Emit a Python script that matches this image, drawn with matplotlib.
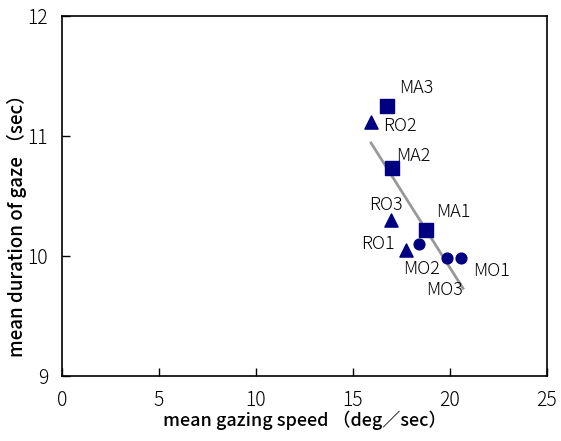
import numpy as np
import matplotlib
matplotlib.use("Agg")
import matplotlib.pyplot as plt

plt.rcParams['font.family'] = ['Noto Sans CJK JP', 'DejaVu Sans']

# mean gazing speed (deg/sec) and mean duration of gaze (sec) per subject
ma_names = ["MA1", "MA2", "MA3"]
ma_speed = [18.76, 17.0, 16.75]
ma_dur = [10.22, 10.73, 11.25]

ro_names = ["RO1", "RO2", "RO3"]
ro_speed = [17.73, 15.93, 16.96]
ro_dur = [10.05, 11.12, 10.30]

mo_names = ["MO1", "MO2", "MO3"]
mo_speed = [20.57, 18.40, 19.85]
mo_dur = [9.98, 10.10, 9.98]

x_ticks = [0, 5, 10, 15, 20, 25]
y_ticks = [9, 10, 11, 12]

navy = "#000080"

fig = plt.figure(figsize=(5.61, 4.41), dpi=100)
ax = fig.add_axes([62 / 561, 1 - 376 / 441, 485 / 561, 360 / 441])

# regression line over all subjects
all_x = np.array(ma_speed + ro_speed + mo_speed)
all_y = np.array(ma_dur + ro_dur + mo_dur)
slope, intercept = np.polyfit(all_x, all_y, 1)
xs = np.array([all_x.min(), all_x.max() + 0.1])
ax.plot(xs, slope * xs + intercept, color="#999999", lw=2, zorder=1)

ax.scatter(ma_speed, ma_dur, marker="s", s=110, color=navy, zorder=2)
ax.scatter(ro_speed, ro_dur, marker="^", s=90, color=navy, zorder=2)
ax.scatter(mo_speed, mo_dur, marker="o", s=60, color=navy, zorder=2)

fs = 13
# point labels, offsets in points
label_offsets = {
    "MA1": (7, 13, "left"), "MA2": (3, 9, "left"), "MA3": (9, 13, "left"),
    "RO1": (-8, 4, "right"), "RO2": (9, -3, "left"), "RO3": (-4, 11, "center"),
    "MO1": (9, -9, "left"), "MO2": (2, -18, "center"), "MO3": (-2, -23, "center"),
}
for names, xs_, ys_ in [(ma_names, ma_speed, ma_dur), (ro_names, ro_speed, ro_dur),
                        (mo_names, mo_speed, mo_dur)]:
    for n, xv, yv in zip(names, xs_, ys_):
        dx, dy, ha = label_offsets[n]
        ax.annotate(n, (xv, yv), xytext=(dx, dy), textcoords="offset points",
                    ha=ha, va="center", fontsize=fs, color="black", fontweight="light")

ax.set_xlim(0, 25)
ax.set_ylim(9, 12)
ax.set_xticks(x_ticks)
ax.set_yticks(y_ticks)
ax.tick_params(direction="in", length=6, width=1, labelsize=14, colors="black", pad=10)
for lbl in ax.get_xticklabels() + ax.get_yticklabels():
    lbl.set_fontweight("light")
for sp in ax.spines.values():
    sp.set_linewidth(1.2)

ax.set_xlabel("mean gazing speed （deg／sec）", fontsize=13, fontweight="medium", labelpad=0)
ax.set_ylabel("mean duration of gaze （sec）", fontsize=13.5, fontweight="medium",
              labelpad=0, y=0.43)

fig.savefig("out.png", dpi=100)
